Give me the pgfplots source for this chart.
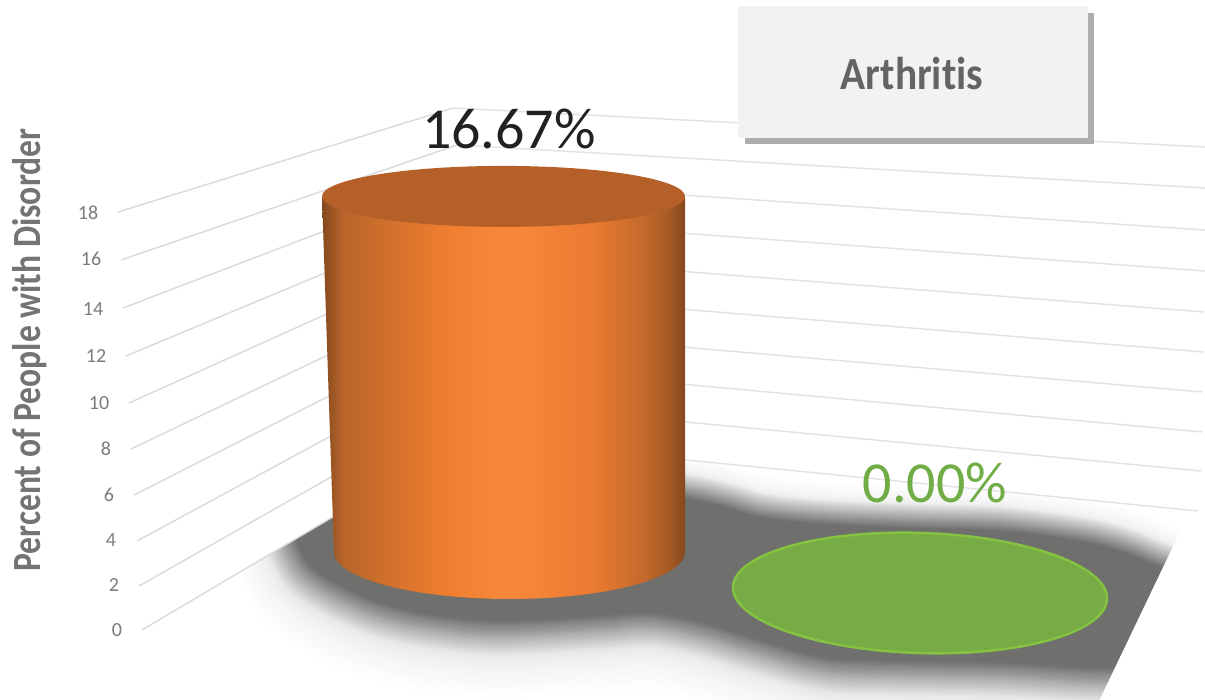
\documentclass[border=0pt]{standalone}
\usepackage{pgfplots}
\usepackage{pgfplotstable}
\usepackage{fontspec}
\setmainfont[Ligatures=NoCommon]{Carlito}
\pgfplotsset{compat=1.18}
\definecolor{floorc}{HTML}{6F6F6D}
\definecolor{gridc}{HTML}{DADADA}
\definecolor{gridr}{HTML}{E2E2E2}
\definecolor{labc}{HTML}{7C7C7E}
\definecolor{titlec}{HTML}{636466}
\definecolor{boxc}{HTML}{F1F2F4}
\definecolor{boxs}{HTML}{ADADAD}
\definecolor{capc}{HTML}{B56028}
\definecolor{grnf}{HTML}{76AB45}
\definecolor{grne}{HTML}{84C341}
\definecolor{grnt}{HTML}{70AD47}
\definecolor{cA}{HTML}{85491E}
\definecolor{cB}{HTML}{B8652A}
\definecolor{cC}{HTML}{EF7D2F}
\definecolor{cD}{HTML}{F68639}
\definecolor{cE}{HTML}{E97A30}
\definecolor{cF}{HTML}{C46A2C}
\definecolor{cG}{HTML}{A85C26}
\pgfdeclarehorizontalshading{cyl}{100bp}{color(0bp)=(cA); color(25bp)=(cA); color(28bp)=(cB); color(41.5bp)=(cC); color(49bp)=(cD); color(53bp)=(cD); color(62.5bp)=(cE); color(69.2bp)=(cF); color(72.5bp)=(cG); color(75bp)=(cA); color(100bp)=(cA)}
\pgfdeclareplotmark{captop}{\pgfpathellipse{\pgfpointorigin}{\pgfqpoint{181.5pt}{0pt}}{\pgfqpoint{0pt}{30.5pt}}\pgfusepathqfill}
\pgfdeclareplotmark{capbot}{%
  \pgfpathmoveto{\pgfqpoint{-187.5pt}{0pt}}%
  \pgfpathmoveto{\pgfqpoint{-175.5pt}{1pt}}%
  \pgfpatharc{180}{360}{175.5pt and 47pt}%
  \pgfpathlineto{\pgfqpoint{175.5pt}{1pt}}%
  \pgfpathclose
  \pgfshadepath{cyl}{0}\pgfusepath{discard}}
\pgfdeclareplotmark{capgrn}{\pgfpathellipse{\pgfqpoint{0pt}{-40pt}}{\pgfqpoint{187pt}{-6pt}}{\pgfqpoint{2pt}{60pt}}\pgfusepathqfillstroke}
\pgfplotstableread{
x y
500 470
690 500
760 518
827 525
920 529
1004 532
1090 544
1145 562
1190 590
1150 658
1100 665
1004 660
900 658
827 655
760 637
700 619
650 610
600 613
500 618
433 612
380 600
332 578
305 555
305 520
400 450
500 470
}\shadowtab
\newcommand{\shadowlayer}[3]{\addplot[fill=floorc,draw=floorc,smooth,tension=0.55,line width=#1pt,line join=round,opacity=#2,yshift=-#3pt] table[x=x,y=y] {\shadowtab};}
\newcommand{\wall}[6]{\addplot[gridc,line width=1.4pt] coordinates {(#1,#2)(#3,#4)};\addplot[gridr,line width=1.4pt] coordinates {(#3,#4)(#5,#6)};}
\newcommand{\ticklab}[3]{\node[text=labc,font=\fontsize{20}{22}\selectfont,anchor=center] at (axis cs:#1,#2) {#3};}
\begin{document}
\begin{tikzpicture}[x=1pt,y=1pt]
\useasboundingbox (0,0) rectangle (1205pt,699pt);
\begin{axis}[at={(0,0)},anchor=south west,scale only axis,width=1205pt,height=699pt,
  xmin=0,xmax=1205,ymin=0,ymax=699,y dir=reverse,axis lines=none,clip=false]
\shadowlayer{124}{0.008}{18}
\shadowlayer{116}{0.01}{17}
\shadowlayer{108}{0.012}{16}
\shadowlayer{100}{0.014}{15}
\shadowlayer{92}{0.016}{13.5}
\shadowlayer{84}{0.018}{12}
\shadowlayer{76}{0.02}{10.5}
\shadowlayer{70}{0.024}{9}
\shadowlayer{66}{0.028}{8}
\shadowlayer{62}{0.03}{7}
\shadowlayer{60}{0.0333}{6}
\shadowlayer{58}{0.0345}{5.8}
\shadowlayer{56}{0.0357}{5.6}
\shadowlayer{54}{0.0370}{5.4}
\shadowlayer{52}{0.0385}{5.2}
\shadowlayer{50}{0.04}{5}
\shadowlayer{48}{0.0417}{4.8}
\shadowlayer{46}{0.0435}{4.6}
\shadowlayer{44}{0.0455}{4.4}
\shadowlayer{42}{0.0476}{4.2}
\shadowlayer{40}{0.05}{4}
\shadowlayer{38}{0.0526}{3.8}
\shadowlayer{36}{0.0556}{3.6}
\shadowlayer{34}{0.0588}{3.4}
\shadowlayer{32}{0.0625}{3.2}
\shadowlayer{30}{0.0667}{3}
\shadowlayer{28}{0.0714}{2.8}
\shadowlayer{26}{0.0769}{2.6}
\shadowlayer{24}{0.0833}{2.4}
\shadowlayer{22}{0.0909}{2.2}
\shadowlayer{20}{0.1}{2}
\shadowlayer{18}{0.1111}{1.8}
\shadowlayer{16}{0.125}{1.6}
\shadowlayer{14}{0.1429}{1.4}
\shadowlayer{12}{0.1667}{1.2}
\shadowlayer{10}{0.2}{1}
\shadowlayer{8}{0.25}{0.8}
\shadowlayer{6}{0.3333}{0.6}
\shadowlayer{4}{0.5}{0.4}
\shadowlayer{2}{1}{0.2}
% floor edges
\addplot[fill=white,draw=none] coordinates {(142,630)(466,438)(1198,511)(1215,511)(1215,-10)(-10,-10)(-10,630)};
\addplot[fill=white,draw=none] coordinates {(1190,511)(1100,699)(1095,715)(1220,715)(1220,511)};
\addplot[fill=white,draw=none] coordinates {(142,630)(142,715)(-10,715)(-10,630)};
% grid walls
\wall{142}{630}{466}{438}{1198}{511}
\wall{139}{586}{465}{401}{1201}{471}
\wall{137}{541}{464}{364}{1202}{432}
\wall{134}{495}{463}{328}{1202}{392}
\wall{131}{449}{462}{291}{1203}{352}
\wall{129}{403}{460}{254}{1204}{312}
\wall{126}{356}{459}{217}{1205}{271}
\wall{123}{308}{458}{180}{1205}{230}
\wall{121}{260}{457}{145}{1205}{188}
\wall{118}{212}{453}{108}{1205}{147}
% title box
\addplot[fill=boxs,draw=none] coordinates {(745,13)(1094,13)(1094,144)(745,144)};
\addplot[fill=boxc,draw=none] coordinates {(738,6)(1088,6)(1088,138)(738,138)};
\node[text=titlec,anchor=center,font=\fontsize{46}{50}\selectfont\bfseries] at (axis cs:912,74) {\scalebox{0.9}[1]{Arthritis}};
\ticklab{88}{213}{18}
\ticklab{91}{259}{16}
\ticklab{93}{309}{14}
\ticklab{96}{356}{12}
\ticklab{99}{403}{10}
\ticklab{106}{449}{8}
\ticklab{109}{495}{6}
\ticklab{111}{540}{4}
\ticklab{114}{585}{2}
\ticklab{117}{630}{0}
\node[text=titlec!90,rotate=90,anchor=center,font=\fontsize{40}{42}\selectfont\bfseries] at (axis cs:30,350) {\scalebox{0.84}[1]{Percent of People with Disorder}};
\end{axis}
\begin{axis}[at={(0,0)},anchor=south west,scale only axis,width=1205pt,height=699pt,
  xmin=0,xmax=1205,ymin=-6.826,ymax=25.853,axis lines=none,clip=false,
  nodes near coords={\pgfmathprintnumber[fixed,fixed zerofill,precision=2,assume math mode=true]{\pgfplotspointmeta}\%},
  every node near coord/.append style={font=\fontsize{58}{60}\selectfont,anchor=center}]
% orange cylinder: base, wall, lid
\addplot[only marks,mark=capbot,nodes near coords={}] coordinates {(509.5,0)};
\addplot[shade,shading=cyl,draw=none,nodes near coords={}] coordinates {(322,16.67)(685,16.67)(685,0)(334,0)};
\addplot[only marks,mark=captop,mark options={fill=capc,draw=none},
  every node near coord/.append style={text=black!87,xshift=5.5pt,yshift=67pt}] coordinates {(503.5,16.67)};
% green cylinder (zero height)
\addplot[only marks,mark=capgrn,mark options={fill=grnf,draw=grne,line width=2.5pt},
  every node near coord/.append style={text=grnt,xshift=15pt,yshift=70pt}] coordinates {(920,0)};
\end{axis}
\end{tikzpicture}
\end{document}
